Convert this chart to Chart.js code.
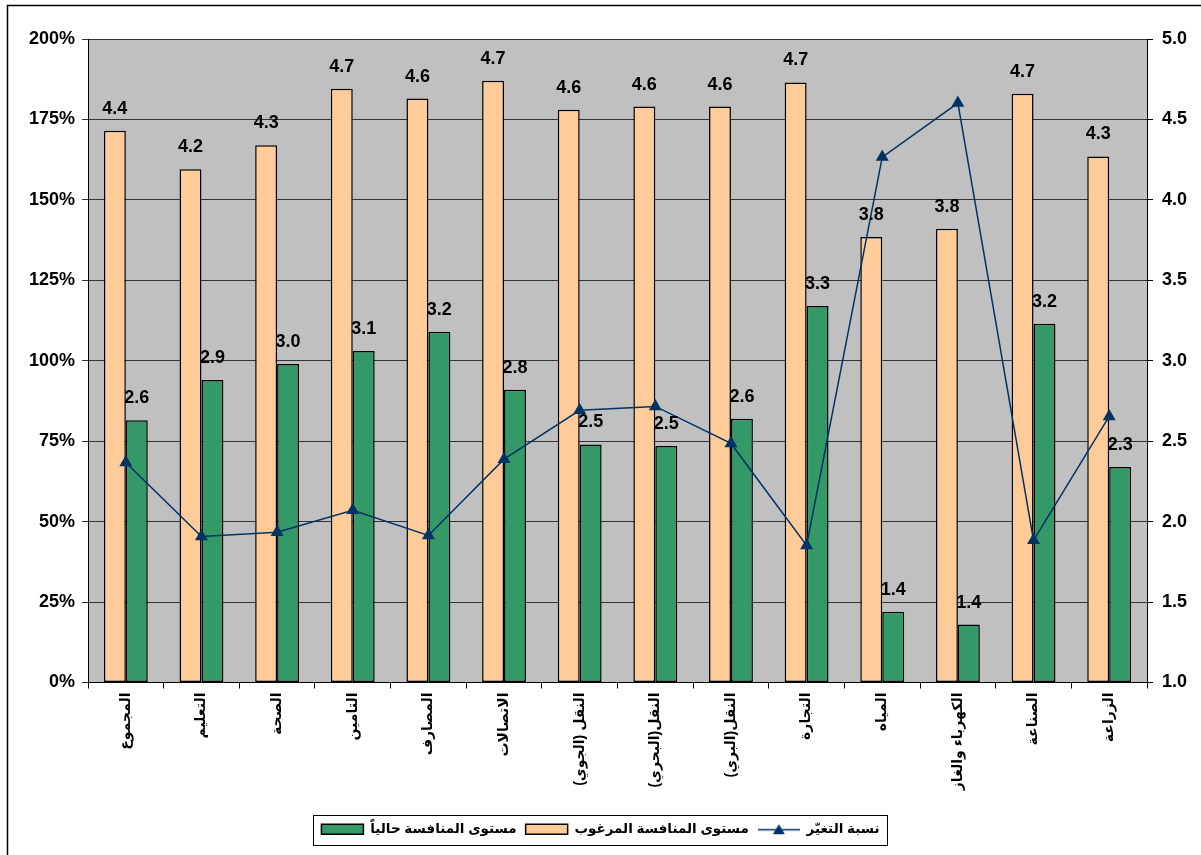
<!DOCTYPE html>
<html lang="ar">
<head>
<meta charset="utf-8">
<title>مستوى المنافسة</title>
<script src="https://cdn.jsdelivr.net/npm/chart.js@4.4.0/dist/chart.umd.min.js"></script>
<style>
  html, body { margin: 0; padding: 0; background: #fff; }
  #chart { display: block; direction: rtl; }
</style>
</head>
<body>
<canvas id="chart" width="1201" height="855"></canvas>
<script>
// ---- data ----
const sectors = [
    'المجموع', 'التعليم', 'الصحة', 'التامين', 'المصارف', 'الاتصالات',
    'النقل (الجوي)', 'النقل(البحري)', 'النقل(البري)', 'التجارة', 'المياه',
    'الكهرباء والغاز', 'الصناعة', 'الزراعة'
];
const desiredLevel = [4.43, 4.19, 4.34, 4.69, 4.63, 4.74, 4.56, 4.58, 4.58, 4.73, 3.77, 3.82, 4.66, 4.27];
const currentLevel = [2.63, 2.88, 2.98, 3.06, 3.18, 2.82, 2.48, 2.47, 2.64, 3.34, 1.44, 1.36, 3.23, 2.34];
const changeRate = [68.4, 45.4, 46.7, 53.5, 45.7, 69.4, 84.6, 85.8, 74.3, 42.6, 163.3, 180.1, 44.2, 82.7];

const desiredName = 'مستوى المنافسة المرغوب';
const currentName = 'مستوى المنافسة حالياً';
const changeName = 'نسبة التغيّر';
const percentTicks = [0, 25, 50, 75, 100, 125, 150, 175, 200];
const levelTicks = [1.0, 1.5, 2.0, 2.5, 3.0, 3.5, 4.0, 4.5, 5.0];

const FONT = "Arial, 'Liberation Sans', 'DejaVu Sans', sans-serif";
const NAVY = '#003366';

// legend order in the picture: current, desired, change
const legendOrder = [1, 0, 2];

// legend symbol for the line series: a short line with a triangle on it
const lineSymbol = document.createElement('canvas');
lineSymbol.width = 42;
lineSymbol.height = 14;
(() => {
    const c = lineSymbol.getContext('2d');
    c.strokeStyle = NAVY;
    c.lineWidth = 1.5;
    c.beginPath();
    c.moveTo(0, 7.5);
    c.lineTo(42, 7.5);
    c.stroke();
    c.fillStyle = NAVY;
    c.beginPath();
    c.moveTo(21, 2);
    c.lineTo(27, 12);
    c.lineTo(15, 12);
    c.closePath();
    c.fill();
})();

// white page, outer frame, grey plot area
const backdrop = {
    id: 'backdrop',
    beforeDraw(chart) {
        const { ctx, chartArea: a } = chart;
        ctx.save();
        ctx.fillStyle = '#fff';
        ctx.fillRect(0, 0, chart.width, chart.height);
        ctx.strokeStyle = '#000';
        ctx.lineWidth = 1.5;
        ctx.beginPath();
        ctx.moveTo(7.5, chart.height);
        ctx.lineTo(7.5, 5.5);
        ctx.lineTo(chart.width, 5.5);
        ctx.stroke();
        ctx.fillStyle = '#C0C0C0';
        ctx.fillRect(a.left, a.top, a.right - a.left, a.bottom - a.top);
        ctx.restore();
    },
    afterDraw(chart) {
        // box round the legend
        const boxes = chart.legend.legendHitBoxes;
        if (!boxes || !boxes.length) return;
        const left = Math.min(...boxes.map(b => b.left)) - 8;
        const right = Math.max(...boxes.map(b => b.left + b.width)) + 8;
        const top = Math.min(...boxes.map(b => b.top)) - 8;
        const bottom = Math.max(...boxes.map(b => b.top + b.height)) + 8;
        const ctx = chart.ctx;
        ctx.save();
        ctx.strokeStyle = '#000';
        ctx.lineWidth = 1;
        ctx.strokeRect(Math.round(left) + 0.5, Math.round(top) + 0.5, Math.round(right - left), Math.round(bottom - top));
        ctx.restore();
    }
};

// value labels above the bars
const barValues = {
    id: 'barValues',
    afterDatasetsDraw(chart) {
        const ctx = chart.ctx;
        ctx.save();
        ctx.font = 'bold 18px ' + FONT;
        ctx.fillStyle = '#000';
        ctx.textAlign = 'center';
        ctx.textBaseline = 'alphabetic';
        [0, 1].forEach(di => {
            const meta = chart.getDatasetMeta(di);
            meta.data.forEach((bar, i) => {
                const v = chart.data.datasets[di].data[i];
                ctx.fillText(v.toFixed(1), bar.x, bar.y - 17);
            });
        });
        ctx.restore();
    }
};

new Chart(document.getElementById('chart'), {
    type: 'bar',
    data: {
        labels: sectors,
        datasets: [
            {
                label: desiredName,
                data: desiredLevel,
                yAxisID: 'y1',
                base: 1,
                backgroundColor: '#FFCC99',
                borderColor: '#000',
                borderWidth: 1.5,
                borderSkipped: false,
                categoryPercentage: 0.58,
                barPercentage: 1.0,
                order: 1
            },
            {
                label: currentName,
                data: currentLevel,
                yAxisID: 'y1',
                base: 1,
                backgroundColor: '#339966',
                borderColor: '#000',
                borderWidth: 1.5,
                borderSkipped: false,
                categoryPercentage: 0.58,
                barPercentage: 1.0,
                order: 1
            },
            {
                type: 'line',
                label: changeName,
                data: changeRate,
                yAxisID: 'y',
                borderColor: NAVY,
                backgroundColor: NAVY,
                borderWidth: 1.5,
                pointStyle: 'triangle',
                pointRadius: 6,
                pointBackgroundColor: NAVY,
                pointBorderColor: NAVY,
                tension: 0,
                order: 0
            }
        ]
    },
    options: {
        responsive: false,
        animation: false,
        layout: { padding: { top: 39, bottom: 9, left: 0, right: 0 } },
        scales: {
            x: {
                grid: { offset: true, drawOnChartArea: false, color: '#000', tickLength: 6 },
                border: { color: '#000', width: 1 },
                ticks: {
                    autoSkip: false,
                    minRotation: 90,
                    maxRotation: 90,
                    padding: 4,
                    color: '#000',
                    font: { family: FONT, size: 14, weight: 'bold' }
                },
                afterFit(axis) { axis.height = 131; }
            },
            y: {
                position: 'left',
                min: 0,
                max: 200,
                afterBuildTicks(axis) { axis.ticks = percentTicks.map(v => ({ value: v })); },
                grid: { color: '#333', lineWidth: 1, tickLength: 6 },
                border: { color: '#000', width: 1 },
                ticks: {
                    padding: 7,
                    color: '#000',
                    font: { family: FONT, size: 18, weight: 'bold' },
                    callback: v => v + '%'
                },
                afterFit(axis) { axis.width = 88; }
            },
            y1: {
                position: 'right',
                min: 1,
                max: 5,
                afterBuildTicks(axis) { axis.ticks = levelTicks.map(v => ({ value: v })); },
                grid: { drawOnChartArea: false, color: '#000', tickLength: 6 },
                border: { color: '#000', width: 1 },
                ticks: {
                    padding: 9,
                    color: '#000',
                    font: { family: FONT, size: 18, weight: 'bold' },
                    callback: v => Number(v).toFixed(1)
                },
                afterFit(axis) { axis.width = 54; }
            }
        },
        plugins: {
            tooltip: { enabled: false },
            legend: {
                position: 'bottom',
                labels: {
                    usePointStyle: true,
                    pointStyleWidth: 42,
                    boxHeight: 10,
                    padding: 9,
                    color: '#000',
                    font: { family: FONT, size: 13.5, weight: 'bold' },
                    sort: (a, b) => legendOrder.indexOf(a.datasetIndex) - legendOrder.indexOf(b.datasetIndex),
                    generateLabels(chart) {
                        const items = Chart.defaults.plugins.legend.labels.generateLabels(chart);
                        items.forEach(it => {
                            it.pointStyle = it.datasetIndex === 2 ? lineSymbol : 'rect';
                        });
                        return items;
                    }
                }
            }
        }
    },
    plugins: [backdrop, barValues]
});
</script>
</body>
</html>
